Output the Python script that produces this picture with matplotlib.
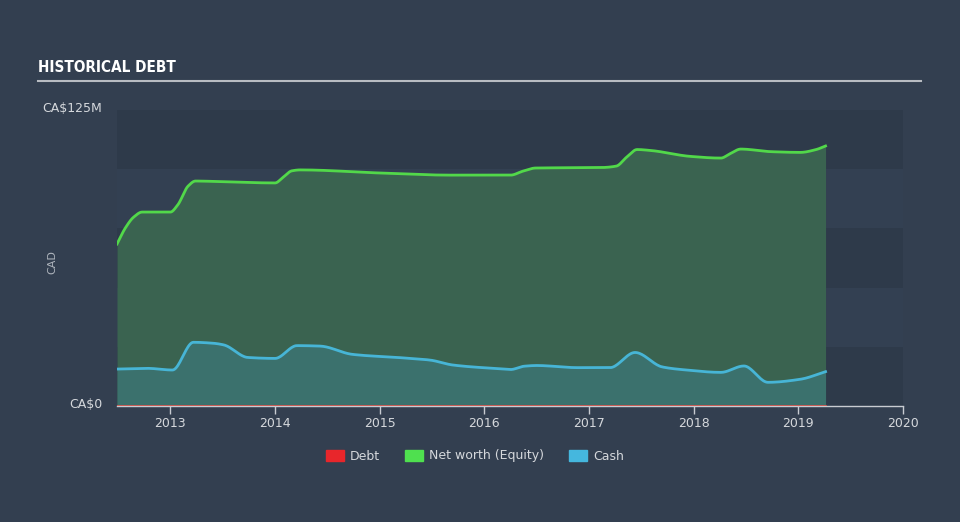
import numpy as np
import matplotlib.pyplot as plt
from matplotlib.patches import Rectangle

# values in CA$ millions, dates as decimal years
equity_x = [2012.49, 2012.57, 2012.65, 2012.73, 2013.0, 2013.07, 2013.17, 2013.24,
            2013.57, 2014.0, 2014.08, 2014.16, 2014.24, 2015.0, 2015.67, 2016.25,
            2016.37, 2016.49, 2017.12, 2017.26, 2017.36, 2017.46, 2017.59, 2017.97,
            2018.26, 2018.35, 2018.45, 2018.74, 2019.02, 2019.17, 2019.26]
equity_y = [68.4, 75.2, 79.8, 81.9, 81.9, 84.9, 92.9, 95.0,
            94.6, 94.2, 96.7, 99.3, 99.7, 98.4, 97.5, 97.5,
            99.2, 100.5, 100.7, 101.3, 105.1, 108.3, 107.9, 105.4,
            104.7, 106.6, 108.5, 107.4, 107.1, 108.3, 109.8]

cash_x = [2012.49, 2012.78, 2013.02, 2013.22, 2013.41, 2013.51, 2013.74, 2014.0,
          2014.21, 2014.43, 2014.74, 2015.2, 2015.48, 2015.7, 2016.15, 2016.25,
          2016.38, 2016.5, 2016.89, 2017.2, 2017.44, 2017.7, 2017.93, 2018.26,
          2018.48, 2018.71, 2019.02, 2019.26]
cash_y = [15.6, 15.9, 15.2, 26.9, 26.5, 25.8, 20.5, 20.1,
          25.5, 25.3, 21.8, 20.4, 19.4, 17.3, 15.7, 15.4,
          16.8, 17.1, 16.2, 16.2, 22.6, 16.5, 15.2, 14.2,
          16.9, 10.0, 11.3, 14.5]

debt_x = [2012.49, 2019.26]
debt_y = [0.0, 0.0]

years = [2013, 2014, 2015, 2016, 2017, 2018, 2019, 2020]


def smooth(x, y, n=20):
    # monotone cubic (pchip-like) curve through the points, for drawing only
    x = np.asarray(x, float)
    y = np.asarray(y, float)
    h = np.diff(x)
    d = np.diff(y) / h
    m = np.zeros_like(y)
    for k in range(1, len(y) - 1):
        if d[k - 1] * d[k] > 0:
            w1 = 2 * h[k] + h[k - 1]
            w2 = h[k] + 2 * h[k - 1]
            m[k] = (w1 + w2) / (w1 / d[k - 1] + w2 / d[k])
    m[0] = d[0]
    m[-1] = d[-1]
    xs, ys = [], []
    for k in range(len(h)):
        t = np.linspace(0, 1, n, endpoint=False)
        h00 = 2 * t**3 - 3 * t**2 + 1
        h10 = t**3 - 2 * t**2 + t
        h01 = -2 * t**3 + 3 * t**2
        h11 = t**3 - t**2
        xs.append(x[k] + t * h[k])
        ys.append(h00 * y[k] + h10 * h[k] * m[k] + h01 * y[k + 1] + h11 * h[k] * m[k + 1])
    xs.append([x[-1]])
    ys.append([y[-1]])
    return np.concatenate(xs), np.concatenate(ys)


bg = '#333f50'
fig = plt.figure(figsize=(9.6, 5.22), dpi=100, facecolor=bg)
ax = fig.add_axes([117 / 960, 116 / 522, 786 / 960, 296 / 522])
ax.set_facecolor(bg)
ax.set_xlim(2012.49, 2020.0)
ax.set_ylim(0, 125)

# alternating bands
for i in range(5):
    c = '#2e3a4a' if i % 2 == 0 else '#334052'
    ax.add_patch(Rectangle((2012.49, i * 25), 7.51, 25, color=c, zorder=0, lw=0))

ex, ey = smooth(equity_x, equity_y)
cx, cy = smooth(cash_x, cash_y)
ax.fill_between(ex, ey, color='#3a6350', zorder=1, lw=0)
ax.plot(ex, ey, color='#52d84a', lw=2, zorder=3)
ax.fill_between(cx, cy, color='#3b716d', zorder=2, lw=0)
ax.plot(cx, cy, color='#47b5d6', lw=2, zorder=3)
ax.plot(debt_x, debt_y, color='#e0574f', lw=1.2, zorder=4)

for s in ['top', 'right', 'left']:
    ax.spines[s].set_visible(False)
ax.spines['bottom'].set_color('#c8ccd2')
ax.spines['bottom'].set_linewidth(1)
ax.set_yticks([])
ax.set_xticks(years)
ax.set_xticklabels([str(y) for y in years])
ax.tick_params(axis='x', colors='#c8ccd2', labelcolor='#d5d8dc', labelsize=9,
               length=6, width=1, pad=2)

fig.text(102 / 960, 1 - 108 / 522, 'CA\\$125M', color='#d5d8dc', fontsize=9,
         ha='right', va='center')
fig.text(102 / 960, 1 - 404 / 522, 'CA\\$0', color='#d5d8dc', fontsize=9,
         ha='right', va='center')
fig.text(52 / 960, 1 - 262 / 522, 'CAD', color='#aeb4bc', fontsize=8,
         rotation=90, ha='center', va='center')

fig.text(38 / 960, 1 - 68 / 522, 'HISTORICAL DEBT', color='white', fontsize=11,
         fontweight='bold', fontstretch='condensed', ha='left', va='center')
fig.add_artist(plt.Line2D([38 / 960, 921 / 960], [1 - 81 / 522, 1 - 81 / 522],
                          color='#b8bcc2', lw=1.5))

handles = [Rectangle((0, 0), 1, 1, color='#e8262b'),
           Rectangle((0, 0), 1, 1, color='#4fe04f'),
           Rectangle((0, 0), 1, 1, color='#45b7de')]
fig.legend(handles, ['Debt', 'Net worth (Equity)', 'Cash'], loc='center',
           bbox_to_anchor=(475 / 960, 1 - 456 / 522), ncol=3, frameon=False,
           labelcolor='#d5d8dc', fontsize=9, handlelength=1.4, handleheight=1.0,
           columnspacing=2.0, handletextpad=0.5)

fig.savefig('out.png', dpi=100, facecolor=bg)
